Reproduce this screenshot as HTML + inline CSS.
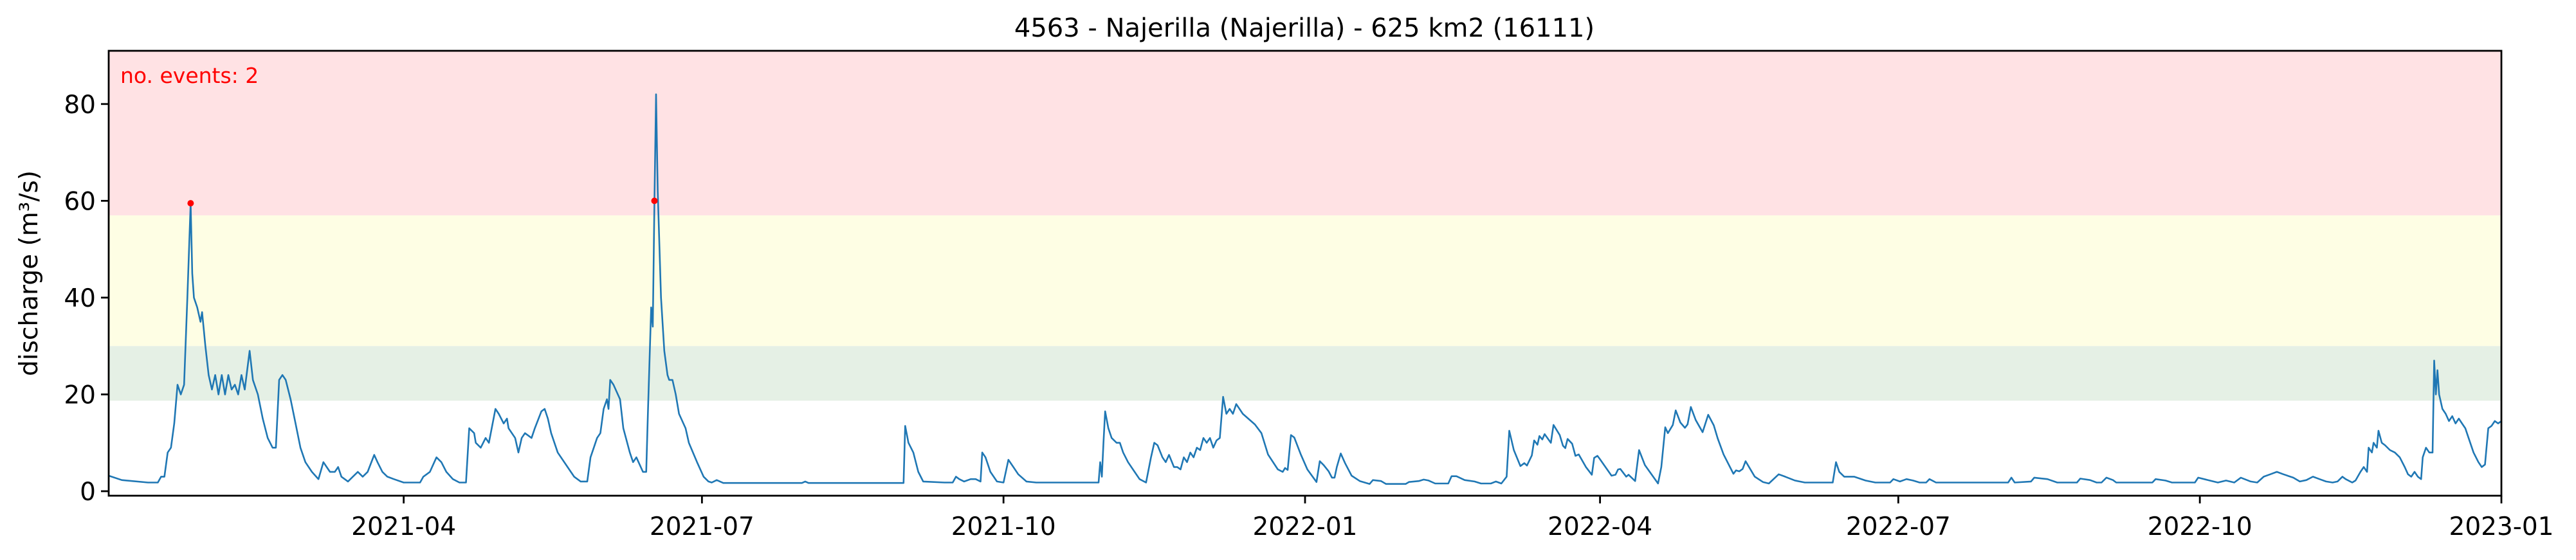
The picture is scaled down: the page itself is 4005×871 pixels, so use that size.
<!DOCTYPE html>
<html><head><meta charset="utf-8">
<style>
html,body{margin:0;padding:0;background:#fff;}
svg{display:block;}
text{font-family:"DejaVu Sans","Liberation Sans",sans-serif;}
</style></head>
<body>
<svg id="chart" width="4005" height="871" viewBox="0 0 4005 871" xmlns="http://www.w3.org/2000/svg">
<text x="2028" y="57" font-size="40" text-anchor="middle">4563 - Najerilla (Najerilla) - 625 km2 (16111)</text>
<text transform="translate(58,425) rotate(-90)" font-size="39" text-anchor="middle">discharge (m³/s)</text>
<g id="bands"></g>
<g id="series"></g>
<g id="axes"></g>
<text x="187" y="129" font-size="33" fill="#ff0000">no. events: 2</text>
</svg>
<script>
const days=[0,4,12,15,16,17,18,19,20,21,22,23,24,25,25.5,26,27,28,28.5,29.5,30.5,31.5,32.5,33.5,34.5,35.5,36.5,37.5,38.5,39.5,40.5,41.5,43,44,45.5,47,48.5,50,51,52,53,54,55.5,57,58.5,60,62,64,65.5,66.5,67.5,69,70,71,73,74.5,76,77.5,79,81,82,83.5,85,87,90,95,96,98,100,101.5,103,105,107,109,110,111.5,112,113.5,115,116,118,119,120.5,121.5,122,124,125,126,127,129,130,132,133,134,135,137,140,142,144,146,147,148,149,150,151,152,152.5,153,154,156,157,159,160,161,163,164,164.5,165.5,166,166.5,167,167.5,168.5,169.5,170.5,171,172,173,174,176,177,179.5,181.5,183,184,185.5,187.5,195,211.5,212.5,213.5,242.5,243,244,245.5,247,248.5,255,257.5,258.5,259.5,261,263,264.5,266,266.5,267.5,269,271,273,274.5,276,277.5,280,283,302,302.5,303,303.5,304,305,306,307.5,308.5,309.5,311,313,314.5,316.5,318,319,320,321.5,322.5,323.5,325,326,327,328,329,330,331,332,333,334,335,336,337,338,339,340,341,342,343,344,345,346,
349.7,351.7,353.7,356.7,358.2,358.9,359.7,360.7,361.7,363.7,365.7,368.5,369.5,370.7,372.2,373.2,374,374.7,375.9,377.2,379.2,381.7,384.7,385.7,388.2,389.7,395.7,396.7,399.7,401.2,402.7,404.7,408.7,409.7,411.2,413.7,416.7,418.7,421.7,423.2,424.9,426.5,427.3,428.7,430.7,431.9,432.7,434.2,434.9,435.9,436.5,437.4,438.1,440,440.8,442.7,443.7,444.4,445.1,446.5,447.5,448.5,450.7,452.5,453.2,454.2,454.9,458.5,459.7,460.5,461.2,463,463.7,465.7,466.9,468.7,472.7,473.7,474.9,475.7,476.5,477.2,478.1,479.5,480.9,481.7,482.7,484.2,486.3,488,489.7,490.9,492.7,495.7,496.5,497.5,498.5,499.4,502.2,504.7,506.5,
509.5,511.5,514.5,517.5,526,527,528,529.5,532.5,536,539,543.5,544.5,546.5,548.5,550.5,552.5,554.5,555.5,557.5,579.5,580.5,581.5,586.5,587.5,591.5,594.5,600.5,601.5,604.5,606.5,608,609.5,611.5,612.5,623.5,624.5,627.5,629.5,636.5,637.5,640.5,643.5,646,648.5,650.5,653.5,655.5,657.5,659.5,661.5,663.5,666.5,668.5,670.5,672.5,674.5,676.5,678.5,680,681.5,682.5,684.5,685.5,687,688,689,689.5,690.5,691,692,692.5,693.5,694.5,696,697.5,699,700.5,701.5,702.5,703.5,704.5,705.5,706,707,708,709,709.5,710,710.5,711,712,713,714,715,716,717,718,719,720,721.5,723,724,725,726,727,728,729,730];
const flows=[3.2,2.3,1.8,1.8,3,3,8,9,14,22,20,22,40,59.5,45,40,38,35,37,30,24,21,24,20,24,20,24,21,22,20,24,21,29,23,20,15,11,9,9,23,24,23,19,14,9,6,4,2.5,6,5,4,4,5,3,2,3,4,3,4,7.5,6,4,3,2.5,1.8,1.8,3,4,7,6,4,2.5,1.8,1.8,13,12,10,9,11,10,17,16,14,15,13,11,8,11,12,11,13,16.5,17,15,12,8,5,3,2,2,7,9,11,12,17,19,17,23,22,19,13,8,6,7,4,4,16,38,34,60,82,62,40,29,24,23,23,20,16,13,10,6,3,2,1.8,2.3,1.7,1.7,1.7,2,1.7,1.7,13.5,10,8,4,2,1.8,1.8,3,2.5,2,2.5,2.5,2,8,7,4,2,1.8,6.5,5,3.5,2,1.8,1.8,6,3,10,16.5,13,11,10,10,8,6,4,2.5,1.8,7,10,9.5,7,6,7.5,5,5,4.5,7,6,8,7,9,8.5,11,10,11,9,10.5,11,19.5,16,17,16,18,17,16,
13.8,12,7.6,4.5,4,4.8,4.4,11.6,11.1,7.6,4.5,1.9,6.2,5.4,4.1,2.8,2.8,5,7.8,5.8,3.2,2.1,1.5,2.3,2.1,1.5,1.5,1.9,2.1,2.4,2.2,1.6,1.6,3.1,3.1,2.3,2.0,1.6,1.6,2.0,1.6,3,12.5,8.5,5.2,5.8,5.3,7.4,10.5,9.6,11.4,10.7,11.8,10,13.7,11.6,9.4,8.9,10.8,9.8,7.3,7.6,5,3.4,6.9,7.3,6.7,3.2,3.4,4.5,4.6,3,3.4,2.1,8.5,5.4,1.6,5,13.2,12,12.9,13.7,16.7,14.2,13.1,13.8,17.4,14.7,12.2,15.8,13.6,10.9,7.6,3.6,4.3,4.1,4.6,6.2,3,1.9,1.6,
3.5,3,2.2,1.8,1.8,6,4,3,3,2.2,1.8,1.8,2.5,2,2.5,2.2,1.8,1.8,2.5,1.8,1.8,2.8,1.8,2,2.8,2.5,1.8,1.8,2.6,2.3,1.8,1.8,2.8,2.3,1.8,1.8,2.5,2.2,1.8,1.8,2.8,2.3,1.8,2.2,1.8,2.8,2,1.8,3,3.5,4,3.5,2.8,2,2.3,3,2.5,2,1.8,2,3,2.5,1.8,2.2,4,5,4,9,8,10,9,12.5,10,9.5,8.5,8,7,5,3.5,3,4,3,2.5,7,9,8,8,27,20,25,20,17,16,14.5,15.5,14,15,14,13,11,8,6,5,5.5,13,13.5,14.5,14,14.5];
const eventDays=[25,166.5];
const eventFlows=[59.5,60];
const bandLow=[18.7,30,57];
const bandHigh=[30,57,91];
const bandColors=['#e5f0e5','#fefee4','#ffe2e4'];
const yTicks=[0,20,40,60,80];
const xTickDays=[90,181,273,365,455,546,638,730];
const xTickLabels=['2021-04','2021-07','2021-10','2022-01','2022-04','2022-07','2022-10','2023-01'];

const L=169,R=3889,T=79,B=771,XMAX=730,YMIN=-0.93,YMAX=91;
const X=d=>L+(d/XMAX)*(R-L);
const Y=v=>B-(v-YMIN)/(YMAX-YMIN)*(B-T);
const NS='http://www.w3.org/2000/svg';
function mk(tag,attrs,parent){const e=document.createElementNS(NS,tag);for(const k in attrs)e.setAttribute(k,attrs[k]);parent.appendChild(e);return e;}
const bands=document.getElementById('bands'),series=document.getElementById('series'),axes=document.getElementById('axes');
const names=['normal-band','warning-band','alert-band'];
for(let i=0;i<bandLow.length;i++){
  const r=mk('rect',{x:L,y:Y(Math.min(bandHigh[i],YMAX)),width:R-L,height:Y(bandLow[i])-Y(Math.min(bandHigh[i],YMAX)),fill:bandColors[i]},bands);
  
  
}
const pts=days.map((d,i)=>X(d).toFixed(1)+','+Y(flows[i]).toFixed(1)).join(' ');
const line=mk('polyline',{points:pts,fill:'none',stroke:'#1f77b4','stroke-width':2.6,'stroke-linejoin':'round'},series);


for(let i=0;i<eventDays.length;i++){
  const c=mk('circle',{cx:X(eventDays[i]),cy:Y(eventFlows[i]),r:5,fill:'#ff0000'},series);
  
  
}
const frame=mk('rect',{x:L,y:T,width:R-L,height:B-T,fill:'none',stroke:'#000','stroke-width':2.8},axes);


yTicks.forEach(v=>{
  const t=mk('line',{x1:L-12,x2:L,y1:Y(v),y2:Y(v),stroke:'#000','stroke-width':2.8},axes);
  
  
  const lb=mk('text',{x:L-20,y:Y(v)+14,'font-size':39,'text-anchor':'end'},axes);
  lb.textContent=v;
  
  
});
xTickDays.forEach((d,i)=>{
  const t=mk('line',{x1:X(d),x2:X(d),y1:B,y2:B+12,stroke:'#000','stroke-width':2.8},axes);
  
  
  const lb=mk('text',{x:X(d),y:B+61,'font-size':39,'text-anchor':'middle'},axes);
  lb.textContent=xTickLabels[i];
  
  
});
</script>
</body></html>
